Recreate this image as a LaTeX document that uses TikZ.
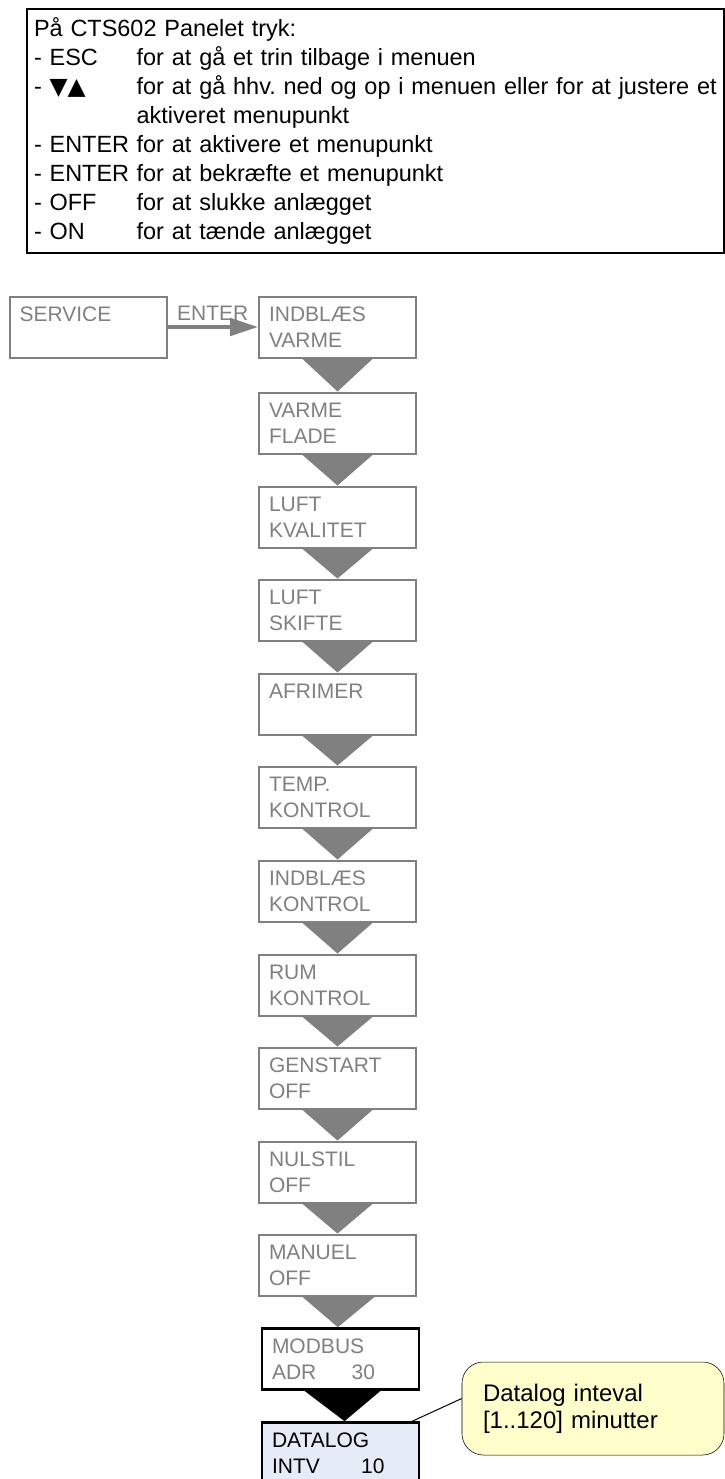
\documentclass[tikz,border=0pt]{standalone}
\usepackage{fontspec}
\setmainfont{Liberation Sans}
\newfontfamily\triglyphs{DejaVu Sans}
\usetikzlibrary{arrows.meta}

\definecolor{notefill}{HTML}{FFFFCC}
\definecolor{logfill}{HTML}{E6ECF7}

\newcommand{\paneltext}{\fontsize{17.6pt}{21.75pt}\selectfont\frenchspacing}
\newcommand{\boxtext}{\fontsize{15.75pt}{19.5pt}\selectfont}
\newcommand{\notetext}{\fontsize{18pt}{20pt}\selectfont\frenchspacing}
\newcommand{\keyname}[1]{\makebox[77pt][l]{#1}}

\tikzset{
    menubox/.style={rectangle, draw=gray, line width=1.5pt, text=gray, minimum width=117.75pt, minimum height=45.75pt, text width=102.75pt, inner xsep=7.5pt, align=left, font=\boxtext},
    activebox/.style={menubox, draw=black, line width=2pt},
}

\begin{document}
\begin{tikzpicture}[x=0.75pt, y=-0.75pt]
    \useasboundingbox (0,0) rectangle (725,1479);
    \clip (0,0) rectangle (725,1479);

    % Panel
    \node (panel) [draw, line width=1.5pt, anchor=north west, minimum width=522.75pt, minimum height=183pt, text width=512.25pt, inner xsep=5.25pt, align=left, font=\paneltext] at (26,8) {På CTS602 Panelet tryk:\\
        \keyname{- ESC}for at gå et trin tilbage i menuen\\
        \keyname{- {\triglyphs ▼▲}}\mbox{for at gå hhv. ned og op i menuen eller for at justere et}\\
        \keyname{}aktiveret menupunkt\\
        \keyname{- ENTER}for at aktivere et menupunkt\\
        \keyname{- ENTER}for at bekræfte et menupunkt\\
        \keyname{- OFF}for at slukke anlægget\\
        \keyname{- ON}for at tænde anlægget};

    % Nodes
    \node (service) [menubox] at (88,327) {SERVICE\\~};
    \node (indblvarme) [menubox] at (337.5,327) {INDBLÆS\\VARME};
    \node (varmeflade) [menubox] at (337.5,423) {VARME\\FLADE};
    \node (luftkval) [menubox] at (337.5,517) {LUFT\\KVALITET};
    \node (luftskift) [menubox] at (337.5,610) {LUFT\\SKIFTE};
    \node (afrimer) [menubox] at (337.5,704) {AFRIMER\\~};
    \node (tempkontrol) [menubox] at (337.5,797) {TEMP.\\KONTROL};
    \node (indblkontrol) [menubox] at (337.5,891) {INDBLÆS\\KONTROL};
    \node (rumkontrol) [menubox] at (337.5,985) {RUM\\KONTROL};
    \node (genstart) [menubox] at (337.5,1078) {GENSTART\\OFF};
    \node (nulstil) [menubox] at (337.5,1172) {NULSTIL\\OFF};
    \node (manuel) [menubox] at (337.5,1265) {MANUEL\\OFF};
    \node (modbus) [activebox] at (340.5,1359) {MODBUS\\ADR\hspace{26.5pt}30};
    \node (datalog) [activebox, fill=logfill, text=black] at (340.5,1453) {DATALOG\\INTV\hspace{31pt}10};
    \node (note) [draw, fill=notefill, rounded corners=16pt, minimum width=196.5pt, minimum height=69.75pt, text width=165pt, inner xsep=15.75pt, align=left, font=\notetext] at (593,1408.5) {Datalog inteval\\{}[1..120] minutter};

    % Edges
    \draw[gray, line width=3pt, -{Triangle[length=21pt, width=13pt]}] (service) -- node[above, midway, font=\boxtext] {ENTER} (indblvarme);
    \fill[gray] (indblvarme.south) ++(-35.5,0) -- ++(71,0) -- (varmeflade.north) -- cycle;
    \fill[gray] (varmeflade.south) ++(-35.5,0) -- ++(71,0) -- (luftkval.north) -- cycle;
    \fill[gray] (luftkval.south) ++(-35.5,0) -- ++(71,0) -- (luftskift.north) -- cycle;
    \fill[gray] (luftskift.south) ++(-35.5,0) -- ++(71,0) -- (afrimer.north) -- cycle;
    \fill[gray] (afrimer.south) ++(-35.5,0) -- ++(71,0) -- (tempkontrol.north) -- cycle;
    \fill[gray] (tempkontrol.south) ++(-35.5,0) -- ++(71,0) -- (indblkontrol.north) -- cycle;
    \fill[gray] (indblkontrol.south) ++(-35.5,0) -- ++(71,0) -- (rumkontrol.north) -- cycle;
    \fill[gray] (rumkontrol.south) ++(-35.5,0) -- ++(71,0) -- (genstart.north) -- cycle;
    \fill[gray] (genstart.south) ++(-35.5,0) -- ++(71,0) -- (nulstil.north) -- cycle;
    \fill[gray] (nulstil.south) ++(-35.5,0) -- ++(71,0) -- (manuel.north) -- cycle;
    \fill[gray] (manuel.south) ++(-35.5,0) -- ++(73,0) -- ([xshift=-2pt]modbus.north) -- cycle;
    \fill[black] (modbus.south) ++(-36,0) -- ++(76,0) -- ([xshift=3pt]datalog.north) -- cycle;
    \draw[line width=0.75pt] ([xshift=-6pt]datalog.north east) -- ([yshift=7.5pt]note.west);

\end{tikzpicture}
\end{document}
